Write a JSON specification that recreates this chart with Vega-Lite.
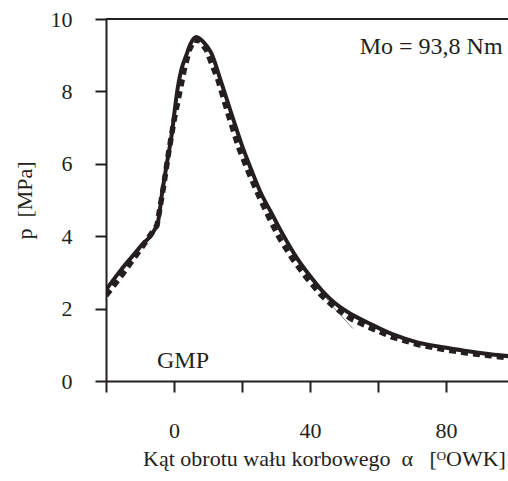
{
  "$schema": "https://vega.github.io/schema/vega-lite/v6.json",
  "autosize": "none",
  "width": 402,
  "height": 362,
  "padding": {"left": 106, "top": 19, "right": 0, "bottom": 100},
  "background": "white",
  "config": {
    "view": {"stroke": null},
    "font": "Liberation Serif",
    "axis": {
      "grid": false,
      "domainColor": "#231f20",
      "domainWidth": 2,
      "tickColor": "#231f20",
      "tickWidth": 2,
      "tickSize": 11,
      "labelFont": "Liberation Serif",
      "labelFontSize": 22,
      "labelColor": "#231f20",
      "titleFont": "Liberation Serif",
      "titleFontSize": 22,
      "titleFontWeight": "normal",
      "titleColor": "#231f20"
    }
  },
  "datasets": {
    "curves": [
      {"s": "solid", "x": -20, "p": 2.52},
      {"s": "solid", "x": -15.6, "p": 3.07},
      {"s": "solid", "x": -10, "p": 3.7},
      {"s": "solid", "x": -4.8, "p": 4.37},
      {"s": "solid", "x": -3.5, "p": 5.2},
      {"s": "solid", "x": -1.9, "p": 6.12},
      {"s": "solid", "x": -0.9, "p": 6.67},
      {"s": "solid", "x": 1.1, "p": 8.1},
      {"s": "solid", "x": 2.3, "p": 8.65},
      {"s": "solid", "x": 3.5, "p": 8.97},
      {"s": "solid", "x": 5.0, "p": 9.34},
      {"s": "solid", "x": 6.5, "p": 9.5},
      {"s": "solid", "x": 8.8, "p": 9.35},
      {"s": "solid", "x": 10.9, "p": 9.07},
      {"s": "solid", "x": 13.8, "p": 8.28},
      {"s": "solid", "x": 16.8, "p": 7.41},
      {"s": "solid", "x": 20, "p": 6.5},
      {"s": "solid", "x": 22.7, "p": 5.84},
      {"s": "solid", "x": 25.5, "p": 5.2},
      {"s": "solid", "x": 28.6, "p": 4.65},
      {"s": "solid", "x": 32, "p": 4.05},
      {"s": "solid", "x": 36.4, "p": 3.36},
      {"s": "solid", "x": 40, "p": 2.9},
      {"s": "solid", "x": 43.5, "p": 2.5},
      {"s": "solid", "x": 47.2, "p": 2.16},
      {"s": "solid", "x": 52, "p": 1.85},
      {"s": "solid", "x": 57, "p": 1.61},
      {"s": "solid", "x": 64, "p": 1.3},
      {"s": "solid", "x": 71.8, "p": 1.06},
      {"s": "solid", "x": 80, "p": 0.92},
      {"s": "solid", "x": 86.5, "p": 0.82},
      {"s": "solid", "x": 93, "p": 0.74},
      {"s": "solid", "x": 100, "p": 0.67},
      {"s": "dashed", "x": -20, "p": 2.36},
      {"s": "dashed", "x": -15, "p": 2.97},
      {"s": "dashed", "x": -10, "p": 3.62},
      {"s": "dashed", "x": -5, "p": 4.3},
      {"s": "dashed", "x": -3.2, "p": 5.3},
      {"s": "dashed", "x": -1.6, "p": 6.3},
      {"s": "dashed", "x": 0, "p": 7.2},
      {"s": "dashed", "x": 1.5, "p": 7.9},
      {"s": "dashed", "x": 3, "p": 8.6},
      {"s": "dashed", "x": 4.5, "p": 9.15},
      {"s": "dashed", "x": 6, "p": 9.42},
      {"s": "dashed", "x": 7.5, "p": 9.4},
      {"s": "dashed", "x": 9.5, "p": 9.15},
      {"s": "dashed", "x": 13, "p": 8.3},
      {"s": "dashed", "x": 16, "p": 7.35},
      {"s": "dashed", "x": 19, "p": 6.45},
      {"s": "dashed", "x": 22, "p": 5.75},
      {"s": "dashed", "x": 25, "p": 5.1},
      {"s": "dashed", "x": 28, "p": 4.5},
      {"s": "dashed", "x": 31, "p": 3.95},
      {"s": "dashed", "x": 35, "p": 3.35},
      {"s": "dashed", "x": 39, "p": 2.85},
      {"s": "dashed", "x": 43, "p": 2.4},
      {"s": "dashed", "x": 47, "p": 2.05},
      {"s": "dashed", "x": 52, "p": 1.72},
      {"s": "dashed", "x": 57, "p": 1.5},
      {"s": "dashed", "x": 64, "p": 1.22},
      {"s": "dashed", "x": 72, "p": 1.0},
      {"s": "dashed", "x": 80, "p": 0.86},
      {"s": "dashed", "x": 87, "p": 0.76},
      {"s": "dashed", "x": 93, "p": 0.7},
      {"s": "dashed", "x": 100, "p": 0.62},
      {"s": "gray", "x": 40, "p": 2.85},
      {"s": "gray", "x": 47, "p": 2.02},
      {"s": "gray", "x": 52.6, "p": 1.45}
    ],
    "labels": [
      {"t": "Mo = 93,8 Nm", "x": 96.6, "p": 9.02, "a": "right"},
      {"t": "GMP", "x": 2.65, "p": 0.37, "a": "center"}
    ]
  },
  "layer": [
    {
      "data": {"name": "curves"},
      "transform": [{"filter": "datum.s == 'gray'"}],
      "mark": {"type": "line", "clip": true, "color": "#8a8a8a", "strokeWidth": 1},
      "encoding": {
        "x": {
          "field": "x", "type": "quantitative",
          "scale": {"domain": [-20, 98.2], "nice": false, "zero": false},
          "axis": {
            "values": [-20, 0, 20, 40, 60, 80],
            "labelExpr": "datum.value % 40 == 0 ? datum.label : ''",
            "labelBaseline": "alphabetic",
            "labelPadding": 45,
            "title": "Kąt obrotu wału korbowego\u00a0\u00a0α\u00a0\u00a0\u00a0[ᴼOWK]",
            "titleX": 218,
            "titleY": 84,
            "titleAlign": "center",
            "titleBaseline": "alphabetic"
          }
        },
        "y": {
          "field": "p", "type": "quantitative",
          "scale": {"domain": [0, 10], "nice": false},
          "axis": {
            "values": [0, 1, 2, 3, 4, 5, 6, 7, 8, 9, 10],
            "labelExpr": "datum.value % 2 == 0 ? datum.label : ''",
            "labelPadding": 23,
            "title": "p\u00a0\u00a0[MPa]",
            "titleX": -82,
            "titleY": 181,
            "titleAngle": -90,
            "titleAlign": "center",
            "titleBaseline": "middle"
          }
        }
      }
    },
    {
      "data": {"name": "curves"},
      "transform": [{"filter": "datum.s == 'dashed'"}],
      "mark": {"type": "line", "clip": true, "color": "#231f20", "strokeWidth": 5.5, "strokeDash": [7, 5]},
      "encoding": {
        "x": {"field": "x", "type": "quantitative"},
        "y": {"field": "p", "type": "quantitative"}
      }
    },
    {
      "data": {"name": "curves"},
      "transform": [{"filter": "datum.s == 'solid'"}],
      "mark": {"type": "line", "clip": true, "color": "#231f20", "strokeWidth": 4, "interpolate": "monotone"},
      "encoding": {
        "x": {"field": "x", "type": "quantitative"},
        "y": {"field": "p", "type": "quantitative"}
      }
    },
    {
      "data": {"values": [{}]},
      "mark": {"type": "rule", "color": "#231f20", "strokeWidth": 2},
      "encoding": {"y": {"datum": 10, "type": "quantitative"}}
    },
    {
      "data": {"name": "labels"},
      "transform": [{"filter": "datum.a == 'right'"}],
      "mark": {"type": "text", "font": "Liberation Serif", "fontSize": 24, "color": "#231f20", "baseline": "alphabetic", "align": "right"},
      "encoding": {
        "x": {"field": "x", "type": "quantitative"},
        "y": {"field": "p", "type": "quantitative"},
        "text": {"field": "t"}
      }
    },
    {
      "data": {"name": "labels"},
      "transform": [{"filter": "datum.a == 'center'"}],
      "mark": {"type": "text", "font": "Liberation Serif", "fontSize": 24, "color": "#231f20", "baseline": "alphabetic", "align": "center"},
      "encoding": {
        "x": {"field": "x", "type": "quantitative"},
        "y": {"field": "p", "type": "quantitative"},
        "text": {"field": "t"}
      }
    }
  ]
}
